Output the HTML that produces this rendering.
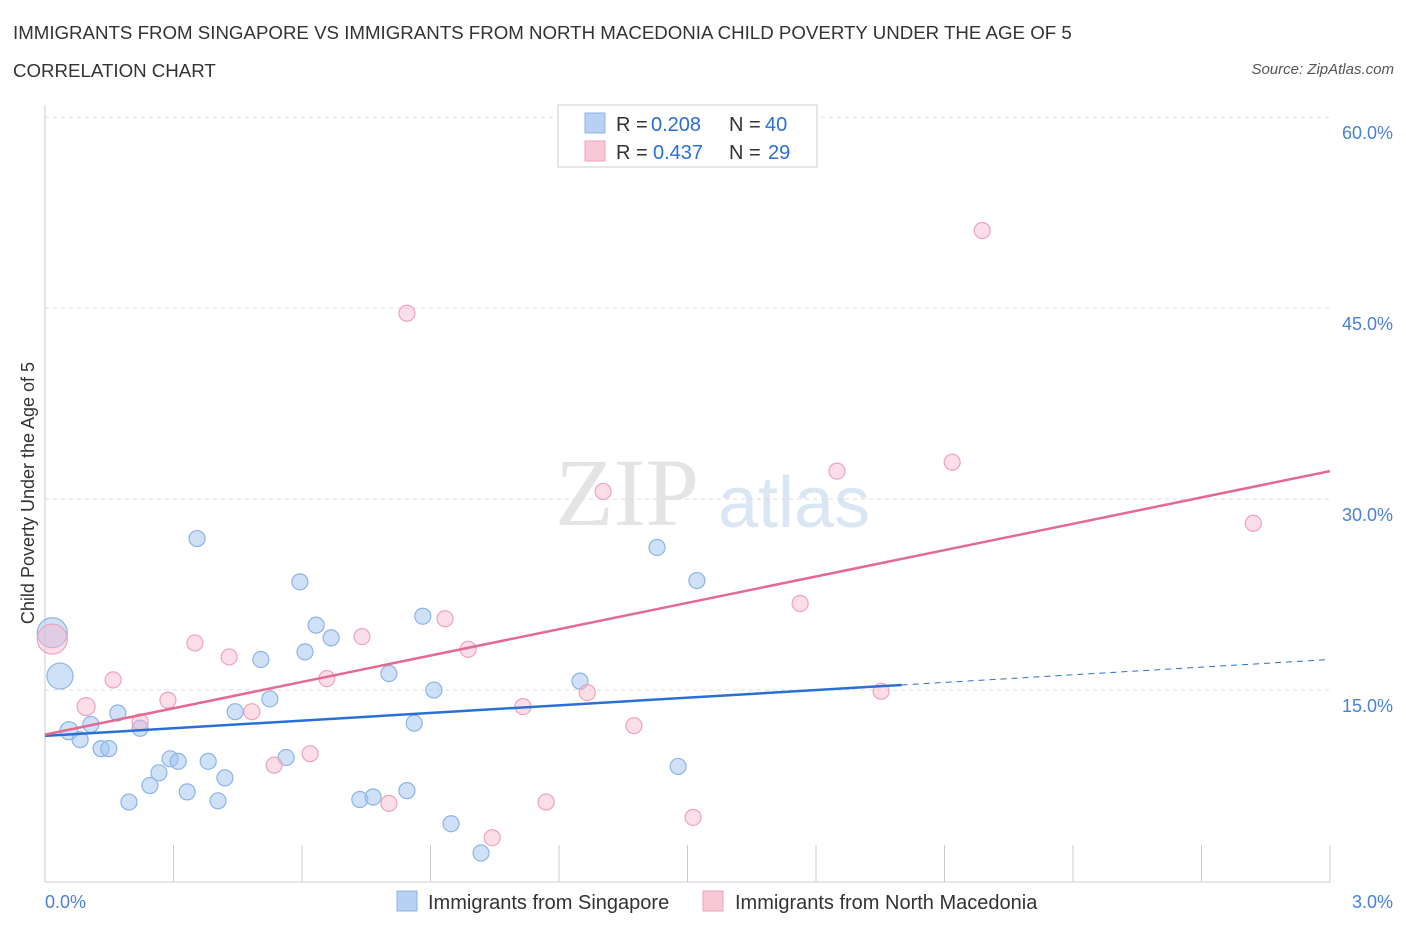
<!DOCTYPE html>
<html><head><meta charset="utf-8">
<style>
body{margin:0;background:#fff;font-family:"Liberation Sans",sans-serif;}
#wrap{position:relative;width:1406px;height:930px;overflow:hidden;}
.t{position:absolute;white-space:nowrap;}
</style></head>
<body>
<div id="wrap">
<div class="t" style="left:13px;top:22px;font-size:18.7px;color:#333;">IMMIGRANTS FROM SINGAPORE VS IMMIGRANTS FROM NORTH MACEDONIA CHILD POVERTY UNDER THE AGE OF 5</div>
<div class="t" style="left:13px;top:60px;font-size:18.7px;color:#333;">CORRELATION CHART</div>
<div class="t" style="right:12px;top:61px;font-size:15px;color:#555;font-style:italic;">Source: ZipAtlas.com</div>
<svg id="svg" width="1406" height="930" style="position:absolute;left:0;top:0"></svg>
</div>
<script>
const xTicks=[0,0.3,0.6,0.9,1.2,1.5,1.8,2.1,2.4,2.7,3.0];
const yTicks=[15,30,45,60];
const yTickLabels=["15.0%","30.0%","45.0%","60.0%"];
const sgX=[0.017,0.035,0.056,0.082,0.107,0.131,0.149,0.170,0.196,0.222,0.245,0.266,0.292,0.311,0.332,0.355,0.381,0.404,0.420,0.444,0.504,0.525,0.563,0.595,0.607,0.633,0.668,0.735,0.766,0.803,0.845,0.862,0.882,0.908,0.948,1.018,1.249,1.429,1.478,1.522];
const sgY=[19.5,16.1,11.8,11.1,12.3,10.4,10.4,13.2,6.2,12.0,7.5,8.5,9.6,9.4,7.0,26.9,9.4,6.3,8.1,13.3,17.4,14.3,9.7,23.5,18.0,20.1,19.1,6.4,6.6,16.3,7.1,12.4,20.8,15.0,4.5,2.2,15.7,26.2,9.0,23.6];
const sgR=[15,13,9,8,8,8,8,8,8,8,8,8,8,8,8,8,8,8,8,8,8,8,8,8,8,8,8,8,8,8,8,8,8,8,8,8,8,8,8,8];
const mkX=[0.017,0.096,0.159,0.222,0.287,0.350,0.430,0.483,0.535,0.619,0.658,0.740,0.803,0.845,0.934,0.988,1.044,1.116,1.170,1.266,1.303,1.375,1.513,1.763,1.849,1.952,2.118,2.188,2.821];
const mkY=[19.0,13.7,15.8,12.5,14.2,18.7,17.6,13.3,9.1,10.0,15.9,19.2,6.1,44.6,20.6,18.2,3.4,13.7,6.2,14.8,30.6,12.2,5.0,21.8,32.2,14.9,32.9,51.1,28.1];
const mkR=[15,9,8,8,8,8,8,8,8,8,8,8,8,8,8,8,8,8,8,8,8,8,8,8,8,8,8,8,8];
const sgLine=[11.4,2.0];
const mkLine=[11.5,6.9];
const sgSolidEnd=2.0;
const X0=45,X1=1330,Y0=881,PXY=12.73;
const xs=v=>X0+(X1-X0)*v/3.0, ys=v=>Y0-v*PXY;
const svg=document.getElementById('svg');
const NS='http://www.w3.org/2000/svg';
function el(t,a,p){const e=document.createElementNS(NS,t);for(const k in a)e.setAttribute(k,a[k]);(p||svg).appendChild(e);return e;}
let w=el('text',{x:555,y:525,'font-size':96,'font-family':'Liberation Serif',fill:'#e4e4e4'});w.textContent='ZIP';


let w2=el('text',{x:718,y:527,'font-size':72,'font-family':'Liberation Sans',fill:'#dbe6f5'});w2.textContent='atlas';


yTicks.forEach((v,i)=>{
 const g=el('line',{x1:X0,x2:X1,y1:ys(v),y2:ys(v),stroke:'#ddd','stroke-dasharray':'4,4'});
 
 
 const t=el('text',{x:1393,y:ys(v)+22,'text-anchor':'end','font-size':18,fill:'#4a80d8'});t.textContent=yTickLabels[i];
 
 
});
let ax=el('line',{x1:X0,x2:X0,y1:105,y2:Y0,stroke:'#ccc'});


let bx=el('line',{x1:X0,x2:X1,y1:Y0+1,y2:Y0+1,stroke:'#ccc'});


xTicks.forEach(v=>{const t=el('line',{x1:xs(v),x2:xs(v),y1:845,y2:Y0+1,stroke:'#ccc'});
 
 });
let xl=el('text',{x:45,y:908,'font-size':18,fill:'#4a80d8'});xl.textContent='0.0%';


let xr=el('text',{x:1393,y:908,'text-anchor':'end','font-size':18,fill:'#4a80d8'});xr.textContent='3.0%';


let yt=el('text',{x:34,y:493,'font-size':18,fill:'#333',transform:'rotate(-90 34 493)','text-anchor':'middle'});yt.textContent='Child Poverty Under the Age of 5';


function pts(X,Y,R,fill,stroke,name){X.forEach((x,i)=>{const c=el('circle',{cx:xs(x),cy:ys(Y[i]),r:R[i],fill:fill,stroke:stroke,'stroke-width':1.2});
 
 });}
pts(sgX,sgY,sgR,'rgba(160,196,240,0.5)','#8cb4e6','point-singapore');
pts(mkX,mkY,mkR,'rgba(246,182,202,0.45)','#eea3bb','point-north-macedonia');
const f=(L,x)=>L[0]+L[1]*x;
let l1=el('line',{x1:xs(0),y1:ys(f(sgLine,0)),x2:xs(sgSolidEnd),y2:ys(f(sgLine,sgSolidEnd)),stroke:'#2a6fd6','stroke-width':2.5});


let l1d=el('line',{x1:xs(sgSolidEnd),y1:ys(f(sgLine,sgSolidEnd)),x2:xs(3),y2:ys(f(sgLine,3)),stroke:'#2a6fd6','stroke-width':1,'stroke-dasharray':'6,5'});


let l2=el('line',{x1:xs(0),y1:ys(f(mkLine,0)),x2:xs(3),y2:ys(f(mkLine,3)),stroke:'#e46a94','stroke-width':2.5});


const lg=el('g',{});


el('rect',{x:558,y:105,width:259,height:62,fill:'#fff',stroke:'#ccc'},lg);
el('rect',{x:585,y:113,width:20,height:20,fill:'#b7d0f3',stroke:'#8cb4e6'},lg);
el('rect',{x:585,y:141,width:20,height:20,fill:'#f8c8d6',stroke:'#eea3bb'},lg);
[[131,'0.208','40',651,765],[159,'0.437','29',653,768]].forEach(r=>{
 const a=el('text',{x:616,y:r[0],'font-size':20,fill:'#333'},lg);a.textContent='R =';
 
 
 const b=el('text',{x:r[3],y:r[0],'font-size':20,fill:'#2a6fd6'},lg);b.textContent=r[1];
 
 
 const c=el('text',{x:729,y:r[0],'font-size':20,fill:'#333'},lg);c.textContent='N =';
 
 
 const d=el('text',{x:r[4],y:r[0],'font-size':20,fill:'#2a6fd6'},lg);d.textContent=r[2];
 
 
});
const bl=el('g',{});


el('rect',{x:397,y:891,width:20,height:20,fill:'#b7d0f3',stroke:'#8cb4e6'},bl);
let b1=el('text',{x:428,y:909,'font-size':20,fill:'#333'},bl);b1.textContent='Immigrants from Singapore';


el('rect',{x:703,y:891,width:20,height:20,fill:'#f8c8d6',stroke:'#eea3bb'},bl);
let b2=el('text',{x:735,y:909,'font-size':20,fill:'#333'},bl);b2.textContent='Immigrants from North Macedonia';


</script>
</body></html>
